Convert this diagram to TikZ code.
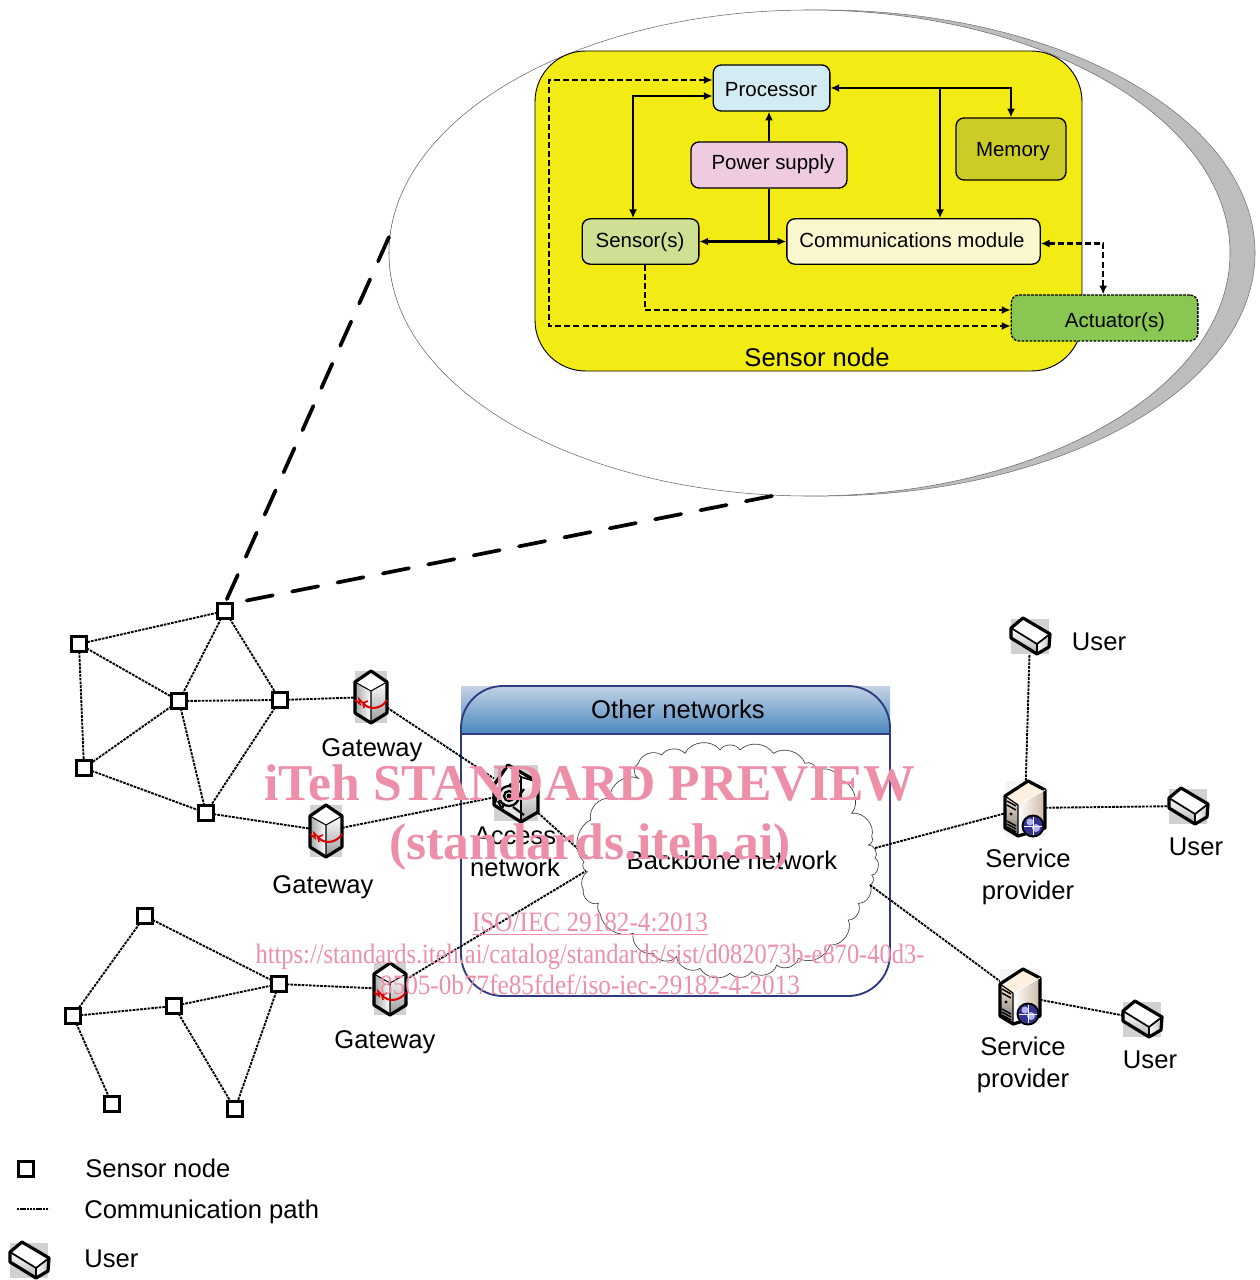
\documentclass[tikz,border=0pt]{standalone}
\usepackage{fontspec}
\setmainfont{Liberation Sans}
\newfontfamily\wmfont{Liberation Serif}
\usetikzlibrary{arrows.meta,calc,positioning}
\definecolor{wmpink}{HTML}{EE8FAA}
\definecolor{crescent}{HTML}{BDBDBD}
\definecolor{yellowbox}{HTML}{F3EB14}
\definecolor{procc}{HTML}{D3ECF4}
\definecolor{powc}{HTML}{EECBE0}
\definecolor{memc}{HTML}{CCCC28}
\definecolor{senc}{HTML}{CFE095}
\definecolor{comc}{HTML}{FBF8D0}
\definecolor{actc}{HTML}{8AC652}
\definecolor{navy}{HTML}{2F3A80}
\definecolor{headtop}{HTML}{C4D2E6}
\definecolor{headbot}{HTML}{4A88BD}
\tikzset{
  x=0.75pt,y=-0.75pt,
  lbl/.style={font=\fontsize{19.2}{23}\selectfont,inner sep=0pt,align=center,text=black},
  txt/.style={font=\fontsize{15.35}{18}\selectfont,inner sep=0pt,text=black},
  inner/.style={inner sep=0pt,rounded corners=6pt,draw=black,line width=1pt},
  solidarr/.style={line width=1.9pt,{Latex[length=6.5pt,width=6pt]}-{Latex[length=6.5pt,width=6pt]}},
  solidend/.style={line width=1.9pt,-{Latex[length=6.5pt,width=6pt]}},
  dasharr/.style={line width=1.8pt,dash pattern=on 4.5pt off 2.3pt,{Latex[length=6.5pt,width=6pt]}-{Latex[length=6.5pt,width=6pt]}},
  dashend/.style={line width=1.8pt,dash pattern=on 4.5pt off 2.3pt,-{Latex[length=6.5pt,width=6pt]}},
  comm/.style={line width=1.4pt,dash pattern=on 2pt off 0.8pt,black},
  bigdash/.style={line width=2.8pt,line cap=round,dash pattern=on 20pt off 14.7pt,black},
  sq/.style={draw=black,fill=white,line width=2pt,minimum size=11.5pt,inner sep=0pt,outer sep=0pt},
  anchorbox/.style={inner sep=0pt,outer sep=0pt,minimum width=#1},
  outl/.style={line width=2.4pt,draw=black,line join=round},
  wmbig/.style={font=\wmfont\bfseries\fontsize{38.7}{40}\selectfont,text=wmpink,inner sep=0pt},
  wmsmall/.style={font=\wmfont\fontsize{21}{23}\selectfont,text=wmpink,inner sep=0pt,xscale=#1,transform shape},
  gwicon/.pic={
    \fill[black!18] (-16,-26) rectangle (16,26);
    \fill[white] (0,-26)--(16,-15)--(0,-6)--(-16,-15)--cycle;
    \shade[left color=black!35,right color=white] (-16,-15)--(0,-6)--(0,26)--(-16,16)--cycle;
    \shade[top color=white,bottom color=black!40] (0,-6)--(16,-15)--(16,16)--(0,26)--cycle;
    \draw[outl] (0,-26)--(16,-15)--(16,16)--(0,26)--(-16,16)--(-16,-15)--cycle;
    \draw[line width=0.8pt] (-16,-15)--(0,-6)--(16,-15) (0,-6)--(0,26);
    \draw[red!85!black,line width=1.5pt] (16,3) .. controls (10,13) and (-3,13) .. (-8,6);
    \draw[red!85!black,line width=1.2pt] (-8,6)--(-12,2)--(-11,7)--(-16,3) (-8,6)--(-7,11) (-8,6)--(-3,4);
  },
  usericon/.pic={
    \fill[black!18] (-19,-17) rectangle (19,18);
    \fill[white] (-7,-18)--(20,-2)--(7,8)--(-19,-8)--cycle;
    \shade[top color=white,bottom color=black!30] (-19,-8)--(7,8)--(7,18)--(-19,2)--cycle;
    \shade[left color=white,right color=black!25] (7,8)--(20,-2)--(19,11)--(7,18)--cycle;
    \draw[outl] (-7,-18)--(20,-2)--(19,11)--(7,18)--(-19,2)--(-19,-8)--cycle;
    \draw[line width=1.3pt] (-19,-8)--(7,8)--(20,-2) (7,8)--(7,18);
  },
  srvicon/.pic={
    \fill[orange!25!black!5!white] (-20,-27) rectangle (20,28);
    \fill[orange!12!white] (3,-27)--(20,-18)--(-7,-3)--(-20,-12)--cycle;
    \shade[left color=white,right color=orange!45!black!35!white] (-7,-3)--(20,-18)--(20,20)--(-7,28)--cycle;
    \shade[top color=orange!18!white,bottom color=black!55] (-20,-12)--(-7,-3)--(-7,28)--(-20,20)--cycle;
    \draw[black,line width=1.1pt] (-18,-7)--(-9,-2) (-18,-3)--(-9,2) (-18,13)--(-9,18) (-18,16)--(-9,21) (-18,19)--(-9,24);
    \fill[black] (-14,6) circle (1.6);
    \draw[outl] (3,-27)--(20,-18)--(20,20)--(-7,28)--(-20,20)--(-20,-12)--cycle;
    \draw[line width=0.6pt,draw=white] (-7,-3)--(20,-18);
    \draw[line width=0.9pt] (-20,-12)--(-7,-3)--(-7,28);
    \fill[black] (8,18) circle (11.5);
    \fill[blue!45!black!80!white] (8,18) circle (9.5);
    \fill[blue!30!white] (5,14) circle (3.5) (11,20) circle (4);
    \draw[white,line width=0.4pt] (-1,18)--(17,18) (8,9)--(8,27);
  },
  accicon/.pic={
    \fill[black!18] (-22,-28) rectangle (22,28);
    \fill[white] (-8,-28)--(22,-11)--(5,-1)--(-22,-8)--cycle;
    \shade[top color=white,bottom color=black!35] (5,-3)--(22,-11)--(22,19)--(5,29)--cycle;
    \fill[black!10] (-22,-8)--(5,-3)--(5,29)--(-22,12)--cycle;
    \draw[outl] (-8,-28)--(22,-11)--(22,19)--(5,29)--(-22,12)--(-22,-8)--cycle;
    \draw[line width=1.3pt] (-8,-28)--(5,-16)--(5,29) (5,-16)--(22,-11);
    \draw[line width=1.7pt] (-7,3) circle (10) (-7,3) circle (5);
    \draw[line width=1.6pt] (-16,-6)--(-21,10) (3,3)--(8,-4) (-3,14)--(8,22) (-7,-8)--(5,-12) (-18,8)--(-14,16)--(-12,10);
    \fill[black] (-7,3) circle (2.5);
  },
}
\begin{document}
\begin{tikzpicture}
\useasboundingbox (0,0) rectangle (1259,1280);

% ---------- magnifier ----------
\filldraw[fill=crescent,draw=black!55,line width=0.4pt] (822,253) ellipse [x radius=433,y radius=243];
\filldraw[fill=white,draw=black!60,line width=0.4pt] (809.5,253) ellipse [x radius=420.5,y radius=243];
\filldraw[fill=yellowbox,draw=black,line width=0.7pt,rounded corners=38pt] (535,51) rectangle (1082,371);
\node[lbl] (sn) at (817,357) {Sensor node};

\node[inner,fill=procc,minimum width=87.5pt,minimum height=34.5pt] (proc) at (771.5,88) {};
\node[txt] (proct) at (771,90) {Processor};
\node[inner,fill=powc,minimum width=117pt,minimum height=34.5pt] (power) at (769,165) {};
\node[txt] (powert) at (773,164) {Power supply};
\node[inner,fill=memc,minimum width=82.5pt,minimum height=46.5pt] (mem) at (1011,149) {};
\node[txt] (memt) at (1013,152) {Memory};
\node[inner,fill=senc,minimum width=87.5pt,minimum height=34pt] (sensor) at (640.5,241.5) {};
\node[txt] (sensort) at (640,242) {Sensor(s)};
\node[inner,fill=comc,minimum width=190pt,minimum height=34pt] (cmod) at (913.5,241.5) {};
\node[txt] (cmodt) at (912,240) {Communications module};
\node[inner,fill=actc,minimum width=140pt,minimum height=34.5pt,dash pattern=on 2pt off 1pt] (act) at (1104.5,318) {};
\node[txt] (actt) at (1115,322) {Actuator(s)};

\coordinate (tap) at (940,88);
\coordinate (lft) at (549,200);
\draw[solidend] (power.north) -- (power.north |- proc.south);
\draw[line width=1.3pt] (power.south) -- (power.south |- sensor.east);
\draw[solidarr] (sensor.east) -- (cmod.west);
\draw[solidarr] ([yshift=-6pt]proc.west) -| ([xshift=-5.6pt]sensor.north);
\draw[solidarr] (proc.east) -| (mem.north);
\draw[solidend] (tap) -- (tap |- cmod.north);
\draw[dasharr] ([yshift=6pt]proc.west) -| (lft) |- ([yshift=-6pt]act.west);
\draw[dashend] ([xshift=3.4pt]sensor.south) |- ([yshift=6pt]act.west);
\draw[dasharr] ([yshift=-1.5pt]cmod.east) -| ([xshift=-1pt]act.north);

% ---------- other networks ----------
\shade[top color=headtop,bottom color=headbot] (461,686) rectangle (890,734);
\draw[navy,line width=1.4pt,rounded corners=31.5pt] (461,734) -- (461,686) -- (890,686) -- (890,734);
\draw[navy,line width=1.4pt] (461,734) -- (890,734);
\draw[navy,line width=1.4pt,rounded corners=31.5pt] (461,734) -- (461,996) -- (890,996) -- (890,734);
\node[lbl] (other) at (678,709) {Other networks};

% ---------- cloud ----------
\begin{scope}[shift={(570,730)},x=0.25pt,y=-0.25pt]
\filldraw[fill=white,draw=black!75,line width=0.5pt]
 (42,395) to[bend left=55] (62,270) to[bend left=55] (120,205) to[bend left=60] (205,145)
 to[bend left=70] (205,100) to[bend left=55] (275,75) to[bend left=50] (345,70)
 to[bend left=60] (450,60) to[bend left=60] (510,60) to[bend left=50] (610,70)
 to[bend left=50] (705,100) to[bend left=65] (740,125) to[bend left=60] (810,150)
 to[bend left=60] (845,250) to[bend left=60] (905,320) to[bend left=60] (895,345)
 to[bend left=70] (915,385) to[bend left=80] (905,435) to[bend left=60] (900,465)
 to[bend left=60] (865,520) to[bend left=60] (835,570) to[bend left=60] (780,645)
 to[bend left=50] (685,685) to[bend left=60] (620,705) to[bend left=60] (545,725)
 to[bend left=50] (480,730) to[bend left=50] (390,715) to[bend left=60] (320,680)
 to[bend left=60] (250,670) to[bend left=60] (190,610) to[bend left=50] (90,550)
 to[bend left=30] (85,520) to[bend left=60] (40,480) to[bend left=40] (52,425)
 to[bend left=60] cycle;
\end{scope}
\coordinate (cw1) at (587,857);
\coordinate (cw2) at (586,871);
\coordinate (ce1) at (875,848);
\coordinate (ce2) at (870,885);
\node[lbl] (bb) at (732,860) {Backbone network};

% ---------- node positions ----------
\node[sq] (a) at (225,611) {};
\node[sq] (b) at (79,644) {};
\node[sq] (c) at (179,701) {};
\node[sq] (d) at (280,700) {};
\node[sq] (e) at (84,768) {};
\node[sq] (f) at (206,813) {};
\node[sq] (g) at (145,916) {};
\node[sq] (h) at (73,1016) {};
\node[sq] (i) at (174,1006) {};
\node[sq] (j) at (279,984) {};
\node[sq] (k) at (112,1104) {};
\node[sq] (l) at (235,1109) {};
\node[anchorbox=24pt,minimum height=39pt] (gw1) at (371,697) {};
\node[anchorbox=24pt,minimum height=39pt] (gw2) at (326,831) {};
\node[anchorbox=24pt,minimum height=39pt] (gw3) at (390,989) {};
\node[anchorbox=33pt,minimum height=42pt] (acc) at (516,793) {};
\node[anchorbox=30pt,minimum height=41pt] (sp1) at (1025,808) {};
\node[anchorbox=30pt,minimum height=41pt] (sp2) at (1020,996) {};
\node[anchorbox=29pt,minimum height=26pt] (u1) at (1030,636) {};
\node[anchorbox=29pt,minimum height=26pt] (u2) at (1188,806) {};
\node[anchorbox=29pt,minimum height=26pt] (u3) at (1142,1019) {};

% ---------- connectors ----------
\coordinate (z1) at (389,237);
\coordinate (z2) at (772,496);
\draw[bigdash] (z1) -- (a.north);
\draw[bigdash] (z2) -- (a.north east);
\foreach \p/\q in {a/b,a/c,a/d,b/c,b/e,c/d,c/e,c/f,d/f,e/f,g/h,g/j,h/i,i/j,h/k,i/l,j/l,d/gw1,f/gw2,j/gw3}
  \draw[comm] (\p) -- (\q);
\draw[comm] (gw1) -- (acc);
\draw[comm] (gw2) -- (acc);
\draw[comm] (acc) -- (cw1);
\draw[comm] (gw3) -- (cw2);
\draw[comm] (ce1) -- (sp1);
\draw[comm] (ce2) -- (sp2);
\draw[comm] (sp1) -- (u1);
\draw[comm] (sp1) -- (u2);
\draw[comm] (sp2) -- (u3);

% ---------- icons ----------
\pic at (gw1) {gwicon};
\pic at (gw2) {gwicon};
\pic at (gw3) {gwicon};
\pic at (acc) {accicon};
\pic at (sp1) {srvicon};
\pic at (sp2) {srvicon};
\pic at (u1) {usericon};
\pic at (u2) {usericon};
\pic at (u3) {usericon};

% ---------- labels ----------
\node[lbl] (lg1) at (372,750) {Gateway};
\node[lbl] (lg2) at (323,887) {Gateway};
\node[lbl] (lg3) at (385,1042) {Gateway};
\node[lbl] (la) at (515,852) {Access\\[1.3pt]network};
\node[lbl] (lu1) at (1099,642) {User};
\node[lbl] (lu2) at (1196,847) {User};
\node[lbl] (lu3) at (1150,1060) {User};
\node[lbl] (ls1) at (1028,877) {Service\\[0.5pt]provider};
\node[lbl] (ls2) at (1023,1065) {Service\\[0.5pt]provider};

% ---------- legend ----------
\node[sq] (lgs) at (26,1169) {};
\node[lbl,anchor=west] (lgst) at (85,1168) {Sensor node};
\coordinate (lgc1) at (17,1209);
\coordinate (lgc2) at (49,1209);
\draw[line width=0.8pt,dash pattern=on 1.8pt off 0.6pt] (lgc1) -- (lgc2);
\node[lbl,anchor=west] (lgct) at (84,1212) {Communication path};
\node[anchorbox=29pt,minimum height=26pt] (lgu) at (29,1260) {};
\pic at (lgu) {usericon};
\node[lbl,anchor=west] (lgut) at (84,1259) {User};

% ---------- watermark ----------
\node[wmbig] (w1) at (590,783) {iTeh STANDARD PREVIEW};
\node[wmbig] (w2) at (590,847) {(standards.iteh.ai)};
\node[wmsmall=0.9] (w3) at (590,924) {\underline{ISO/IEC 29182-4:2013}};
\node[wmsmall=0.874] (w4) at (590,957) {https://standards.iteh.ai/catalog/standards/sist/d082073b-e870-40d3-};
\node[wmsmall=0.9] (w5) at (590,985) {8505-0b77fe85fdef/iso-iec-29182-4-2013};
\end{tikzpicture}
\end{document}
